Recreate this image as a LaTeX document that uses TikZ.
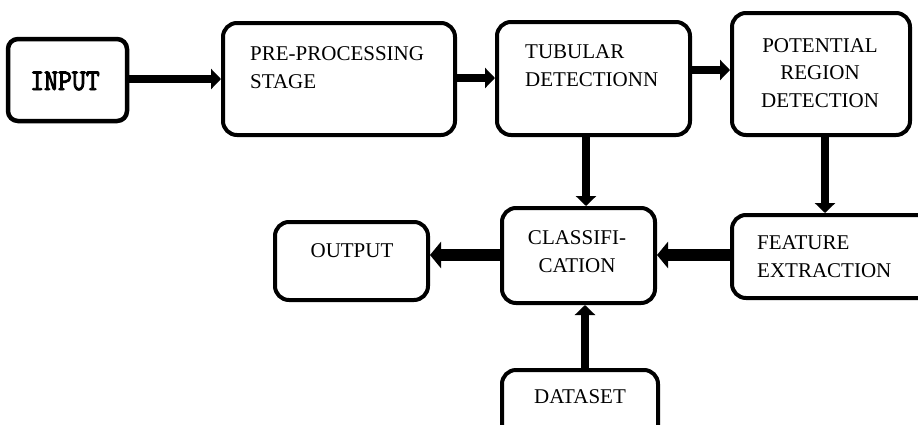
\documentclass[tikz,border=0pt]{standalone}
\usepackage{fontspec}
\setmainfont{Liberation Serif}
\newfontfamily\inputfont[FakeBold=3,FakeStretch=0.9]{Latin Modern Mono}
\usetikzlibrary{arrows.meta}
\begin{document}
\begin{tikzpicture}[x=1pt,y=1pt,yscale=-1,xscale=1,
  blk/.style={draw, line width=4pt, rounded corners=14pt, inner sep=0pt, outer sep=2pt},
  lbl/.style={inner sep=0pt, font=\fontsize{21}{27.5}\selectfont},
  arr/.style={line width=8pt, -{Triangle[width=20pt,length=10pt]}},
  fatarr/.style={line width=12pt, -{Triangle[width=26pt,length=11pt]}}]
\clip (0,0) rectangle (918,424);
\node (input) [blk, rounded corners=10pt, line width=4.5pt, minimum width=119pt, minimum height=82pt] at (67.5,80) {};
\node (pre) [blk, minimum width=232pt, minimum height=112pt] at (339,79) {};
\node (tub) [blk, minimum width=193pt, minimum height=113pt] at (593.5,78.5) {};
\node (pot) [blk, minimum width=178pt, minimum height=122pt] at (821,74) {};
\node (class) [blk, minimum width=153pt, minimum height=95pt] at (578.5,255.5) {};
\node (out) [blk, minimum width=153pt, minimum height=78pt] at (351.5,261) {};
\node (feat) [blk, minimum width=228pt, minimum height=83pt] at (846,256.5) {};
\node (data) [blk, minimum width=156pt, minimum height=72pt] at (580,406) {};
\draw (65,90) node (input-txt) [inner sep=0pt, anchor=base, font=\inputfont\fontsize{30}{30}\selectfont] {INPUT};
\draw (250,88) node (pre-txt) [lbl, anchor=base west, align=left] {PRE-PROCESSING\\STAGE};
\draw (525,86) node (tub-txt) [lbl, anchor=base west, align=left] {TUBULAR\\DETECTIONN};
\draw (820,107) node (pot-txt) [lbl, anchor=base, align=center] {POTENTIAL\\REGION\\DETECTION};
\draw (577,272) node (class-txt) [lbl, anchor=base, align=center] {CLASSIFI-\\CATION};
\draw (352,257) node (out-txt) [lbl, anchor=base] {OUTPUT};
\draw (757,277) node (feat-txt) [lbl, anchor=base west, align=left] {FEATURE\\EXTRACTION};
\draw (580,403) node (data-txt) [lbl, anchor=base] {DATASET};
\draw [arr] (input.east |- 0,79) -- (pre.west |- 0,79);
\draw [arr] (pre.east |- 0,78) -- (tub.west |- 0,78);
\draw [arr] (tub.east |- 0,70) -- (pot.west |- 0,70);
\draw [arr] (586,0 |- tub.south) -- (586,0 |- class.north);
\draw [arr] (825,0 |- pot.south) -- (825,0 |- feat.north);
\draw [arr] (585,0 |- data.north) -- (585,0 |- class.south);
\draw [fatarr] (class.west |- 0,255) -- (out.east |- 0,255);
\draw [fatarr] (feat.west |- 0,255) -- (class.east |- 0,255);
\end{tikzpicture}
\end{document}
